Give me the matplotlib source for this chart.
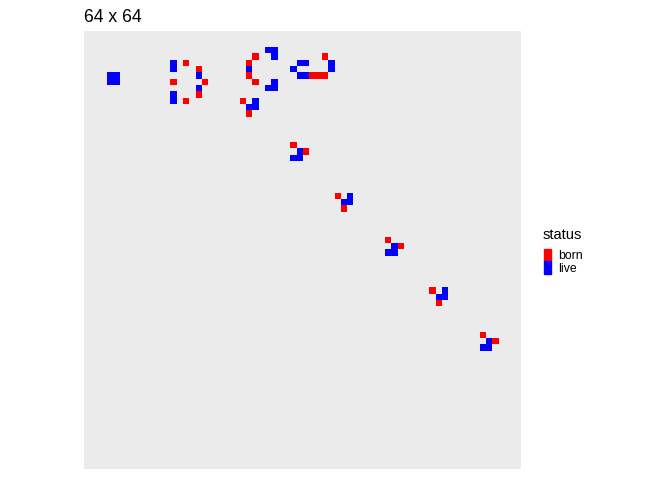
import numpy as np
import matplotlib
matplotlib.use("Agg")
import matplotlib.pyplot as plt
from matplotlib.colors import ListedColormap
from matplotlib.patches import Rectangle

plt.rcParams['font.family'] = ['Liberation Sans', 'DejaVu Sans']

# grid size and cell states (column, row from top)
n_cols = 64
n_rows = 64

live_x = [1, 2, 1, 2,
          11, 11, 15, 15, 11, 11,
          26, 27, 27, 23, 27, 26, 27, 24, 23, 24,
          31, 32, 30, 31, 32, 36, 36,
          31, 30, 31,
          39, 38, 39,
          46, 45, 46,
          54, 53, 54,
          61, 60, 61]
live_y = [4, 4, 5, 5,
          2, 3, 4, 6, 7, 8,
          0, 0, 1, 3, 5, 6, 6, 8, 9, 9,
          2, 2, 3, 4, 4, 2, 3,
          16, 17, 17,
          23, 24, 24,
          31, 32, 32,
          38, 39, 39,
          46, 47, 47]

born_x = [13, 15, 16, 11, 15, 13,
          24, 23, 23, 24, 22, 23,
          35, 33, 34, 35,
          30, 32,
          37, 38,
          45, 47,
          52, 53,
          60, 62]
born_y = [2, 3, 5, 5, 7, 8,
          1, 2, 4, 5, 8, 10,
          1, 4, 4, 4,
          15, 16,
          23, 25,
          30, 31,
          38, 40,
          45, 46]

statuses = ["born", "live"]
colors = ["#FF0000", "#0000FF"]

grid = np.full((n_rows, n_cols), np.nan)
for c, r in zip(born_x, born_y):
    grid[r, c] = 0
for c, r in zip(live_x, live_y):
    grid[r, c] = 1

fig = plt.figure(figsize=(6.72, 4.8), dpi=100)
ax = fig.add_axes([84 / 672, 1 - 468.7 / 480, 436.7 / 672, 437.7 / 480])
ax.set_facecolor("#EBEBEB")
ax.imshow(grid, cmap=ListedColormap(colors), vmin=0, vmax=1,
          extent=(0, n_cols, n_rows, 0), interpolation="nearest", aspect="auto")
pad = 2.65
ax.set_xlim(-pad, n_cols + pad)
ax.set_ylim(n_rows + pad, -pad)
ax.set_xticks([])
ax.set_yticks([])
for s in ax.spines.values():
    s.set_visible(False)

fig.text(84 / 672, 1 - 17.5 / 480, "64 x 64", fontsize=12.7, va="center", ha="left")

# legend
fig.text(543 / 672, 1 - 235 / 480, "status", fontsize=10.5, va="center", ha="left")
key_top = [248.5, 261]
for i, (lab, col) in enumerate(zip(statuses, colors)):
    y0 = key_top[i]
    fig.patches.append(Rectangle((543.5 / 672, 1 - (y0 + 12.5) / 480), 7 / 672, 12.5 / 480,
                                 transform=fig.transFigure, color=col))
    fig.text(558 / 672, 1 - (y0 + 7.5) / 480, lab, fontsize=8.8, va="center", ha="left")

fig.savefig("out.png", dpi=100)
